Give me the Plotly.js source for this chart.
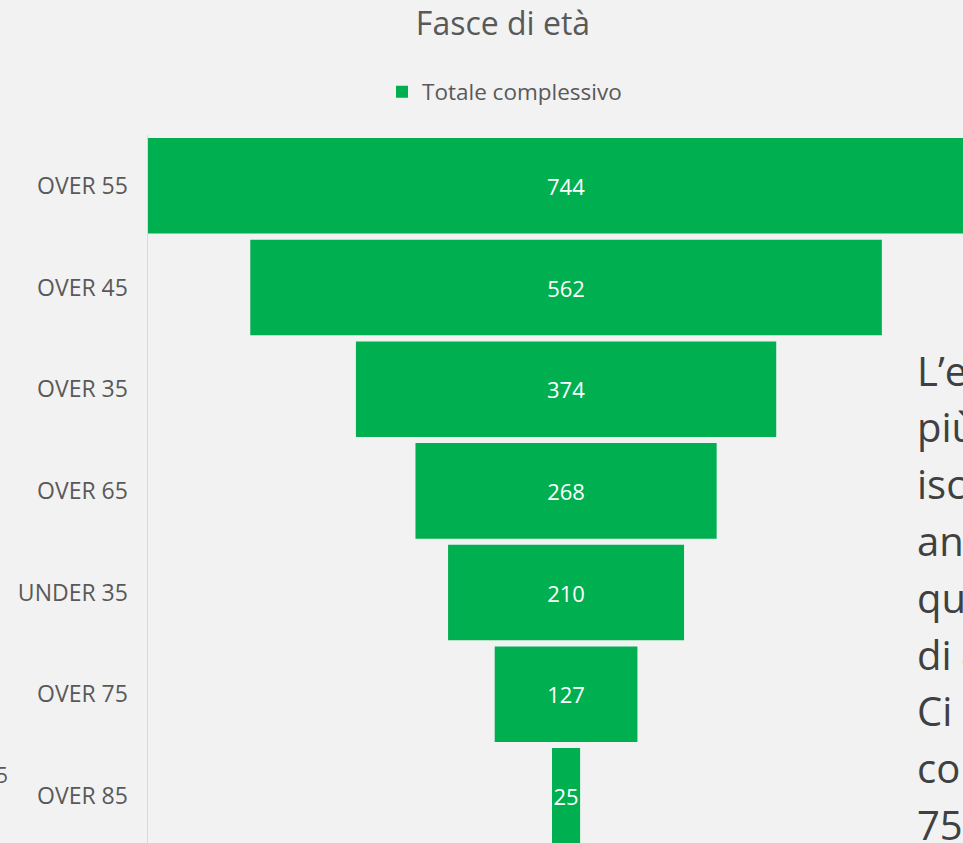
<!DOCTYPE html>
<html>
<head>
<meta charset="utf-8">
<script src="https://cdn.plot.ly/plotly-3.0.1.min.js"></script>
<style>
html,body{margin:0;padding:0;background:#f2f2f2;overflow:hidden;}
#chart{width:963px;height:843px;}
</style>
</head>
<body>
<div id="chart"></div>
<script>
// ---- data ----
const categories = ["OVER 55", "OVER 45", "OVER 35", "OVER 65", "UNDER 35", "OVER 75", "OVER 85"];
const values = [744, 562, 374, 268, 210, 127, 25];
const seriesName = "Totale complessivo";
const chartTitle = "Fasce di età";
// slide text partially visible at the right edge
const sideLines = ["L’e", "più", "isc", "an", "qu", "di 4", "Ci", "co", "75"];
const leftFragment = "5";

// ---- layout helpers ----
const W = 963, H = 843;
const M = {l: 148, r: 0, t: 135, b: 0};
const PW = W - M.l - M.r, PH = H - M.t - M.b;
const px2x = p => (p - M.l) / PW;
const px2y = p => (H - M.b - p) / PH;

const FONT = '"Open Sans", "Segoe UI", sans-serif';

const annotations = [];
sideLines.forEach((t, i) => {
  annotations.push({
    xref: 'paper', yref: 'paper',
    x: px2x(915), y: px2y(370 + i * 56.8),
    xanchor: 'left', yanchor: 'middle',
    text: t.replace(' ', '&#8201;&#8202;'), showarrow: false,
    font: {family: FONT, size: 40, color: '#404040'}
  });
});
annotations.push({
  xref: 'paper', yref: 'paper',
  x: px2x(-6), y: px2y(775),
  xanchor: 'left', yanchor: 'middle',
  text: leftFragment, showarrow: false,
  font: {family: FONT, size: 21, color: '#595959'}
});

const trace = {
  type: 'funnel',
  name: seriesName,
  y: categories,
  x: values,
  orientation: 'h',
  marker: {color: '#00b050', line: {width: 0}},
  connector: {visible: false},
  textinfo: 'value',
  textposition: 'inside',
  insidetextanchor: 'middle',
  constraintext: 'none',
  textfont: {family: FONT, size: 22, color: '#ffffff'},
  showlegend: true,
  hoverinfo: 'none'
};

const half = values[0] / 2;
const layout = {
  width: W, height: H,
  margin: M,
  paper_bgcolor: '#f2f2f2',
  plot_bgcolor: '#f2f2f2',
  font: {family: FONT, color: '#595959'},
  title: {
    text: chartTitle,
    xref: 'container', yref: 'container',
    x: 503 / W, y: 1 - 24 / H,
    xanchor: 'center', yanchor: 'middle',
    font: {family: FONT, size: 32, color: '#595959'}
  },
  showlegend: true,
  legend: {
    orientation: 'h',
    xref: 'container', yref: 'container',
    x: 382 / W, y: 1 - 92 / H,
    xanchor: 'left', yanchor: 'middle',
    font: {family: FONT, size: 22.5, color: '#595959'},
    bgcolor: 'rgba(0,0,0,0)'
  },
  funnelgap: 0.06,
  xaxis: {
    range: [-half, (963 - 566) / 1.124],
    showgrid: false, zeroline: false, showticklabels: false, showline: false,
    fixedrange: true
  },
  yaxis: {
    type: 'category',
    range: [-0.5 + PH / 101.67, -0.5],
    showline: true, linecolor: '#d9d9d9', linewidth: 1.5,
    showgrid: false, zeroline: false,
    ticks: '', ticklabelstandoff: 14,
    tickfont: {family: FONT, size: 23, color: '#595959'},
    fixedrange: true
  },
  annotations: annotations
};

Plotly.newPlot('chart', [trace], layout, {displayModeBar: false, staticPlot: true});
</script>
</body>
</html>
